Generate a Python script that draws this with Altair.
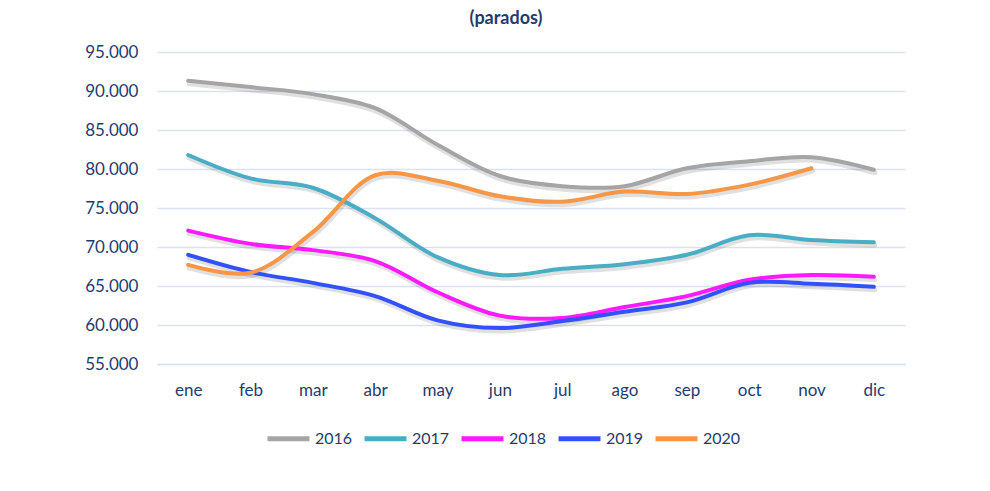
import altair as alt
import pandas as pd

months = ["ene", "feb", "mar", "abr", "may", "jun", "jul", "ago", "sep", "oct", "nov", "dic"]
years = ["2016", "2017", "2018", "2019", "2020"]
colors = ["#A5A5A5", "#4BACC6", "#FF19FF", "#3350FF", "#F79646"]

v2016 = [91300, 90500, 89600, 87800, 83100, 79100, 77800, 77800, 80100, 81000, 81500, 79900]
v2017 = [81800, 78800, 77600, 73700, 68700, 66400, 67200, 67800, 69000, 71500, 70900, 70600]
v2018 = [72100, 70400, 69600, 68200, 64200, 61200, 60900, 62300, 63700, 65800, 66400, 66200]
v2019 = [69000, 66800, 65400, 63700, 60600, 59600, 60500, 61700, 62900, 65400, 65300, 64900]
v2020 = [67700, 66700, 71900, 79200, 78500, 76500, 75800, 77100, 76800, 78000, 80100]

series = {"2016": v2016, "2017": v2017, "2018": v2018, "2019": v2019, "2020": v2020}
rows = []
for y, vals in series.items():
    for m, v in zip(months, vals):
        rows.append({"mes": m, "año": y, "parados": v})
df = pd.DataFrame(rows)

txt = "#1F3C6E"
grid = "#D9E2F1"

x = alt.X("mes:N", sort=months, title=None,
          axis=alt.Axis(labelAngle=0, labelFontSize=17, labelColor=txt, labelFont="Lato",
                        labelPadding=18, ticks=False, domainColor=grid, domainWidth=1.5,
                        grid=False))
y = alt.Y("parados:Q", title=None, scale=alt.Scale(domain=[55000, 95000], nice=False, zero=False),
          axis=alt.Axis(values=list(range(55000, 95001, 5000)), labelFontSize=17, labelColor=txt,
                        labelFont="Lato", labelPadding=19, ticks=False, domain=False,
                        gridColor=grid, gridWidth=1.5,
                        labelExpr="replace(format(datum.value, ','), ',', '.')"))

shadow = alt.Chart(df).mark_line(interpolate="catmull-rom", strokeWidth=5, color="#000000",
                                 opacity=0.12, yOffset=3, xOffset=1, strokeCap="round").encode(
    x=x, y=y, detail="año:N")

lines = alt.Chart(df).mark_line(interpolate="catmull-rom", strokeWidth=4, strokeCap="round").encode(
    x=x, y=y,
    color=alt.Color("año:N", scale=alt.Scale(domain=years, range=colors), title=None,
                    legend=alt.Legend(orient="none", legendX=108, legendY=363, direction="horizontal",
                                      symbolType="stroke", symbolSize=1760, symbolStrokeWidth=5,
                                      labelFontSize=16, labelColor=txt, labelFont="Lato",
                                      labelOffset=3, columnPadding=1)))

chart = alt.layer(shadow, lines).properties(
    width=748, height=312,
    title=alt.TitleParams("(parados)", fontSize=18, font="Lato", fontWeight="bold", color=txt,
                          dx=-25, offset=15),
    autosize=alt.AutoSizeParams(type="none"),
    padding={"left": 149, "top": 44, "right": 60, "bottom": 110},
).configure_view(stroke=None)

chart.save("out.html", embed_options={"renderer": "svg", "actions": False})
